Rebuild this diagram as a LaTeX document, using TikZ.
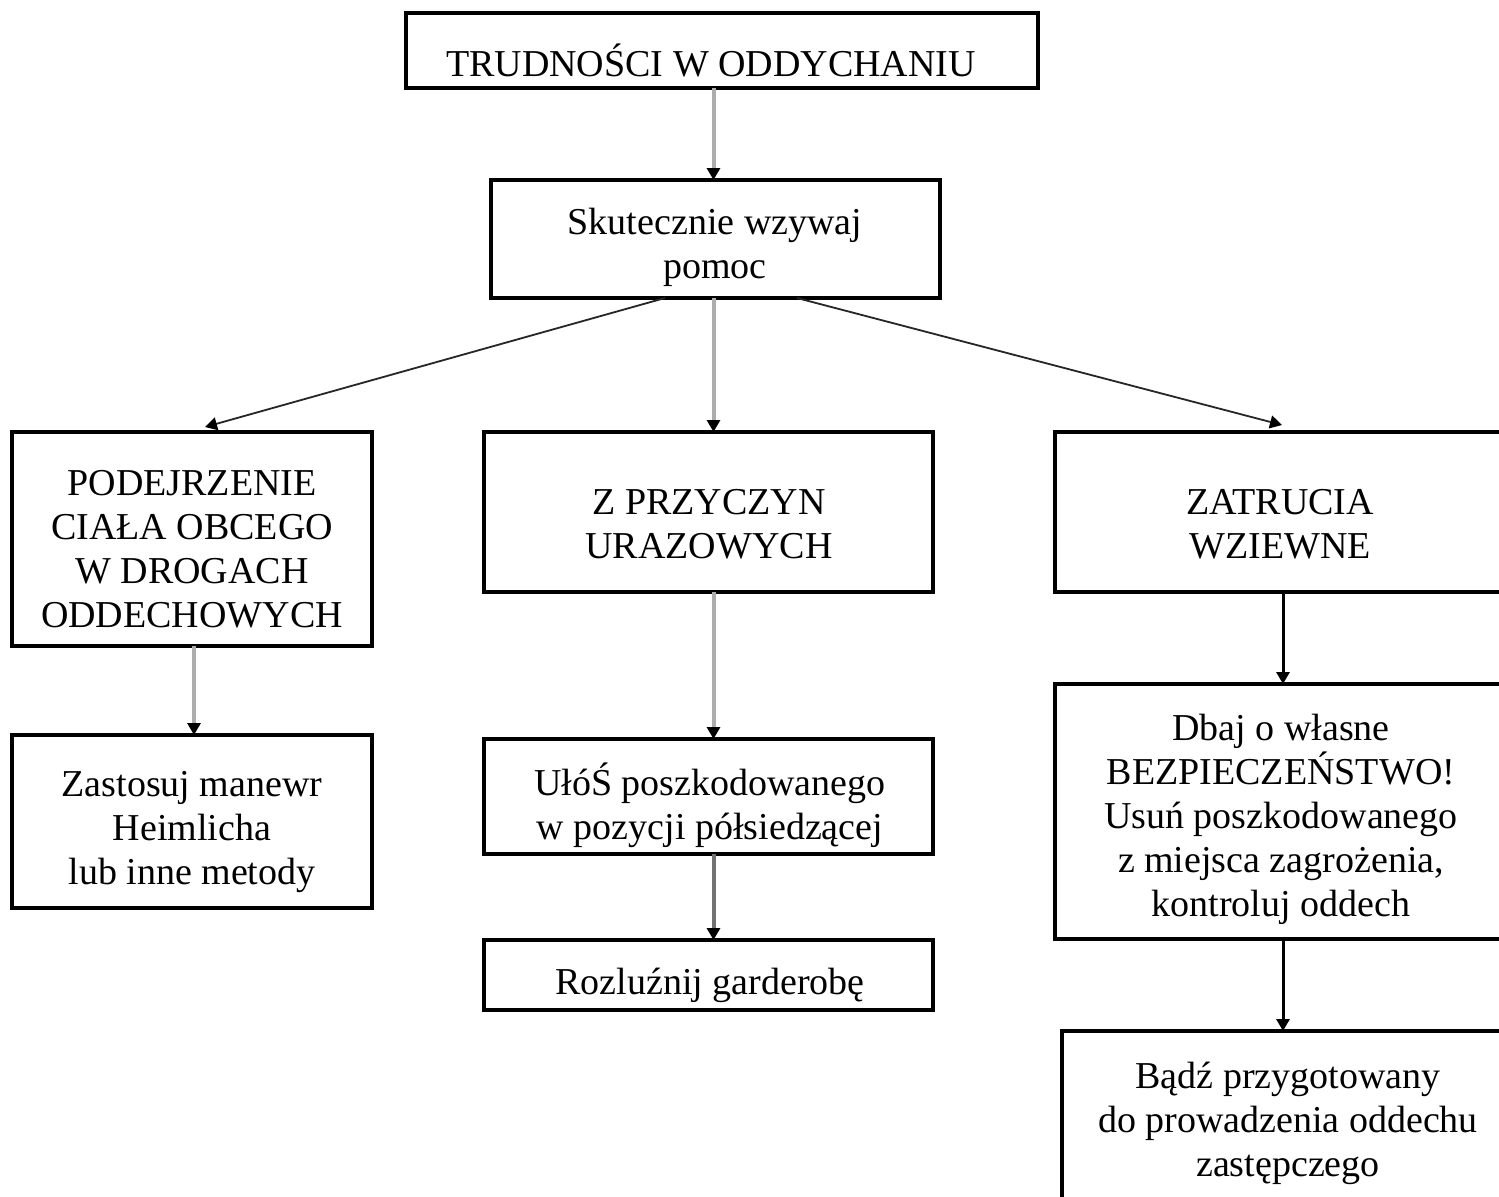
\documentclass[tikz,border=0pt]{standalone}
\usepackage{fontspec}
\setmainfont{Liberation Serif}
\usetikzlibrary{arrows.meta,calc}
\begin{document}
\begin{tikzpicture}[x=0.5pt,y=-0.5pt,
  box/.style={draw=black,line width=1.7pt,rectangle,anchor=north west,inner sep=0pt,outer sep=0pt},
  txt/.style={align=center,inner sep=0pt,font=\fontsize{19}{22}\selectfont},
  tipk/.style={-{Triangle[color=black,length=6pt,width=6.5pt]}},
  garrow/.style={tipk,draw=black!32,line width=2pt},
  darrow/.style={tipk,draw=black!55,line width=2pt},
  karrow/.style={tipk,draw=black,line width=1.5pt},
  diag/.style={tipk,draw=black!85,line width=0.9pt}]
\clip (0,0) rectangle (1499,1196);
\fill[white] (0,0) rectangle (1499,1196);
% boxes
\node[box,minimum width=316pt,minimum height=37.5pt] (top) at (406,13) {};
\node[box,minimum width=224.5pt,minimum height=59pt] (sk) at (491,180) {};
\node[box,minimum width=180pt,minimum height=107pt] (lb) at (12,432) {};
\node[box,minimum width=224.5pt,minimum height=80pt] (mb) at (484,432) {};
\node[box,minimum width=228pt,minimum height=80pt] (rb) at (1055,432) {};
\node[box,minimum width=180pt,minimum height=86.5pt] (zb) at (12,735) {};
\node[box,minimum width=224.5pt,minimum height=57.5pt] (ub) at (484,739) {};
\node[box,minimum width=224.5pt,minimum height=35pt] (rzb) at (484,940) {};
\node[box,minimum width=228pt,minimum height=127.5pt] (db) at (1055,684) {};
\node[box,minimum width=221pt,minimum height=95pt] (bb) at (1062,1031) {};
% texts
\node[txt] (toptxt) at (711,60) {TRUDNOŚCI W ODDYCHANIU};
\node[txt] (sktxt) at (715,247) {Skutecznie wzywaj\\pomoc};
\node[txt] (lbtxt) at (192,549) {PODEJRZENIE\\CIAŁA OBCEGO\\W DROGACH\\ODDECHOWYCH};
\node[txt] (mbtxt) at (709,524) {Z PRZYCZYN\\URAZOWYCH};
\node[txt] (rbtxt) at (1280,524) {ZATRUCIA\\WZIEWNE};
\node[txt] (zbtxt) at (192,832) {Zastosuj manewr\\Heimlicha\\lub inne metody};
\node[txt] (ubtxt) at (710,805) {UłóŚ poszkodowanego\\w pozycji półsiedzącej};
\node[txt] (rzbtxt) at (710,985) {Rozluźnij garderobę};
\node[txt] (dbtxt) at (1281,819) {Dbaj o własne\\BEZPIECZEŃSTWO!\\Usuń poszkodowanego\\z miejsca zagrożenia,\\kontroluj oddech};
\node[txt] (bbtxt) at (1288,1123) {Bądź przygotowany\\do prowadzenia oddechu\\zastępczego};
% connectors
\coordinate (midcol) at (713.5,0);
\draw[garrow] (top.south -| midcol) -- (sk.north -| midcol);
\draw[garrow] (sk.south -| midcol) -- (mb.north -| midcol);
\draw[diag] ([xshift=-25.25pt]sk.south) -- ([xshift=6.5pt,yshift=2.5pt]lb.north);
\draw[diag] ([xshift=40.75pt]sk.south) -- ([xshift=-0.5pt,yshift=3.5pt]rb.north);
\draw[garrow] ([xshift=1pt]lb.south) -- ([xshift=1pt]zb.north);
\draw[garrow] (mb.south -| midcol) -- (ub.north -| midcol);
\draw[darrow] (ub.south -| midcol) -- (rzb.north -| midcol);
\draw[karrow] (rb.south) -- (db.north);
\draw[karrow] (db.south) -- (bb.north);
\end{tikzpicture}
\end{document}
